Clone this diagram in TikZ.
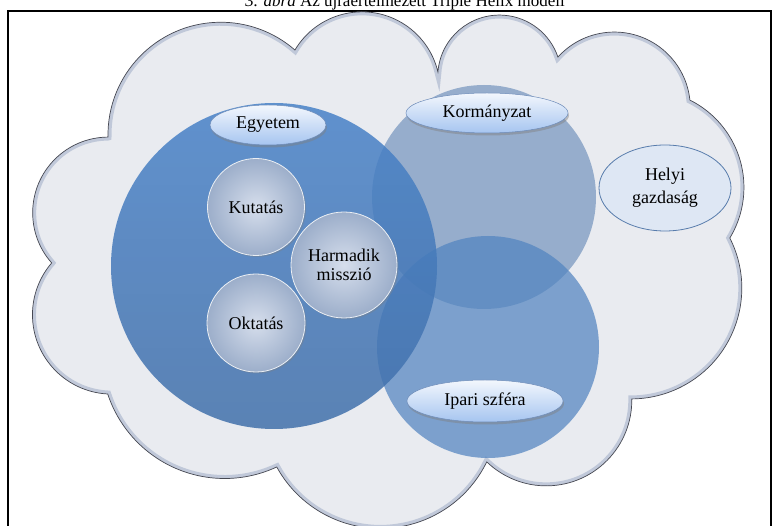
\documentclass[tikz,border=0pt]{standalone}
\usepackage{fontspec}
\setmainfont{Liberation Serif}
\usetikzlibrary{positioning, shapes.geometric, shadows}
\definecolor{cloudgray}{RGB}{233,235,240}
\definecolor{cloudedge}{RGB}{70,72,82}
\definecolor{cloudglow}{RGB}{165,178,202}
\definecolor{unitop}{RGB}{72,130,200}
\definecolor{unibot}{RGB}{66,112,170}
\definecolor{govblue}{RGB}{100,136,182}
\definecolor{indblue}{RGB}{82,132,192}
\definecolor{sphin}{RGB}{214,222,236}
\definecolor{sphout}{RGB}{156,174,202}
\definecolor{tagtop}{RGB}{243,247,253}
\definecolor{tagbot}{RGB}{166,197,240}
\definecolor{tagline}{RGB}{110,140,185}
\definecolor{localfill}{RGB}{222,231,244}
\definecolor{localline}{RGB}{88,124,172}

\newcommand{\labelfont}{\fontsize{18}{21}\selectfont}
% cloud outline, one arc per lobe, clockwise from the upper left notch
\newcommand{\cloudshape}{(108,-137)
        arc[start angle=181, end angle=48.9, radius=112.8]
        arc[start angle=149.3, end angle=13.2, radius=78]
        arc[start angle=175.6, end angle=18.6, radius=61.7]
        arc[start angle=137.9, end angle=6, radius=76]
        arc[start angle=63.5, end angle=-31.2, radius=97.6]
        arc[start angle=26.9, end angle=-89.6, radius=110.8]
        arc[start angle=0.9, end angle=-134, radius=85.6]
        arc[start angle=-25.9, end angle=-151.3, radius=118.2]
        arc[start angle=-65, end angle=-161.7, radius=123.2]
        arc[start angle=267, end angle=139.3, radius=79.4]
        arc[start angle=221.5, end angle=90.5, radius=75.7] -- cycle}

\tikzset{
    bigring/.style={circle, inner sep=0pt, draw=none},
    orb/.style={circle, inner sep=0pt, align=center, font=\labelfont,
                shading=radial, inner color=sphin, outer color=sphout,
                draw=white!80!sphout, line width=0.8pt,
                drop shadow={shadow xshift=1.5pt, shadow yshift=-1.5pt, opacity=0.35}},
    tag/.style={ellipse, inner sep=0pt, font=\labelfont,
                top color=tagtop, bottom color=tagbot, draw=tagline, line width=0.5pt,
                drop shadow={shadow xshift=1pt, shadow yshift=-2.5pt, opacity=0.45}}
}

\begin{document}
\begin{tikzpicture}[x=1pt, y=1pt]
        \useasboundingbox (0,0) rectangle (772,-526);

        % title, cut by the page edge
        \node[anchor=base, font=\fontsize{17}{20}\selectfont] (title) at (405,-7)
            {\textit{3. ábra} Az újraértelmezett Triple Helix modell};
        \draw[line width=1.6pt] (8,-540) |- (771,-11) -- (771,-540);

        % cloud
        \fill[cloudgray] \cloudshape;
        \begin{scope}
            \clip \cloudshape;
            \draw[cloudglow, line width=7pt, opacity=0.6] \cloudshape;
        \end{scope}
        \draw[cloudedge, line width=0.7pt] \cloudshape;

        % the three spheres
        \node[bigring, minimum size=224pt, fill=govblue, fill opacity=0.62] (kormkor) at (484,-197) {};
        \node[bigring, minimum size=222pt, fill=indblue, fill opacity=0.72] (iparkor) at (488,-347) {};
        \node[bigring, minimum size=326pt, top color=unitop, bottom color=unibot, opacity=0.85] (egyetemkor) at (274,-266) {};

        \node[orb, minimum size=97pt] (kutatas) at (256,-207) {Kutatás};
        \node[orb, minimum size=106pt] (harmadik) at (344,-265) {Harmadik\\[-2pt]misszió};
        \node[orb, minimum size=98pt] (oktatas) at (256,-323) {Oktatás};

        \node[tag, minimum width=116pt, minimum height=40pt] (egyetem) at (268,-125) {Egyetem};
        \node[tag, minimum width=162pt, minimum height=40pt] (kormanyzat) at (487,-113) {Kormányzat};
        \node[tag, minimum width=156pt, minimum height=42pt] (ipari) at (485,-401) {Ipari szféra};

        \node[ellipse, minimum width=132pt, minimum height=86pt, inner sep=0pt, align=center,
              font=\labelfont, fill=localfill, draw=localline, line width=0.8pt] (helyi) at (665,-188)
            {Helyi\\[2pt]gazdaság};
\end{tikzpicture}
\end{document}
